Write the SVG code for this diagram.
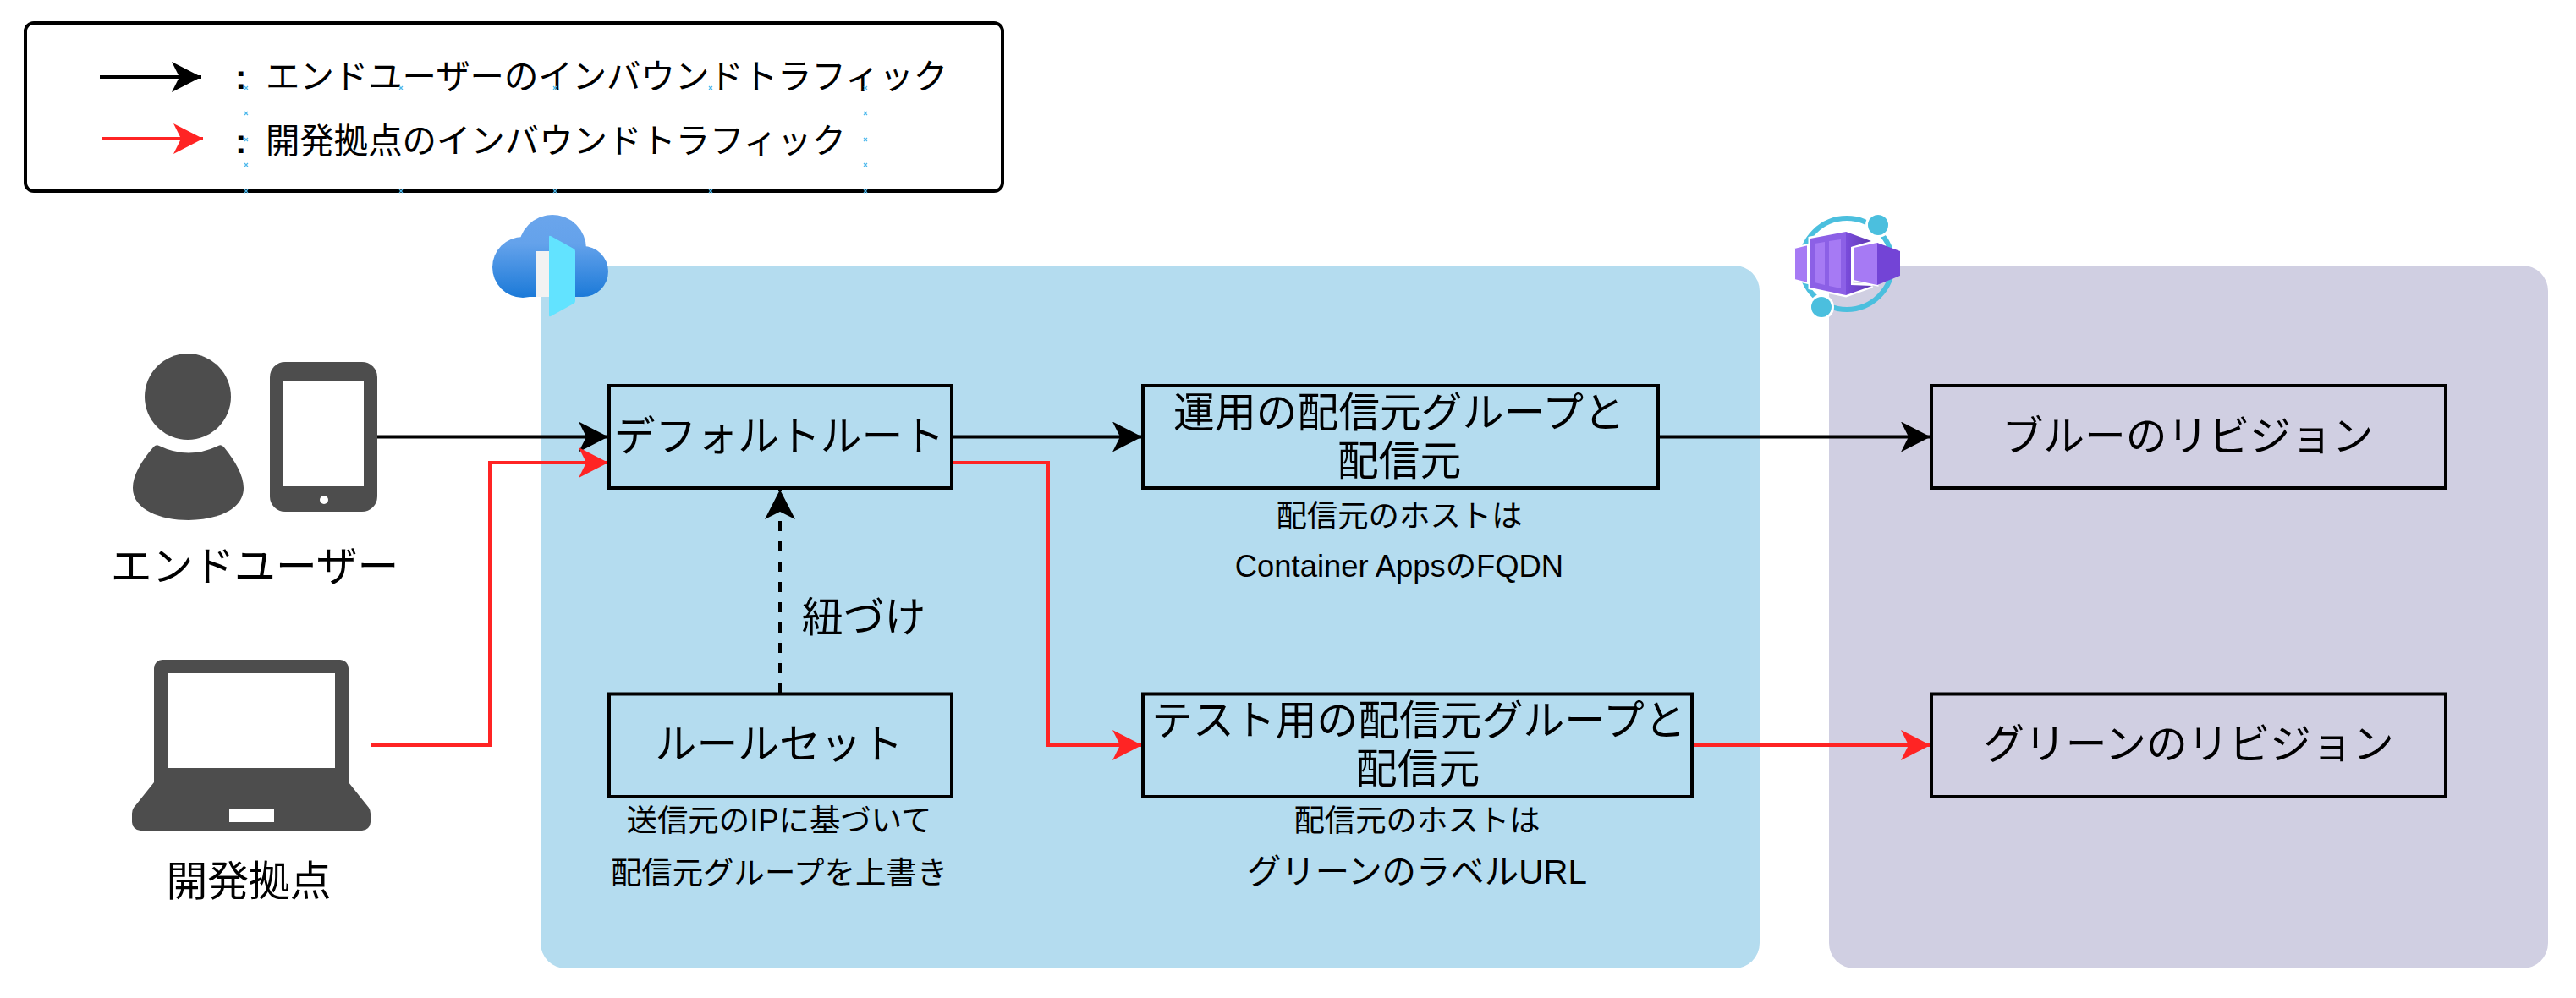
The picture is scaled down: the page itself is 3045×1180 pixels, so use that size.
<svg xmlns="http://www.w3.org/2000/svg" width="3045" height="1180" viewBox="0 0 3045 1180">
<defs>
<marker id="ab" markerUnits="userSpaceOnUse" markerWidth="36" markerHeight="36" refX="35" refY="18" orient="auto"><path d="M0,0 L35,18 L0,36 L9,18 Z" fill="#000"/></marker>
<marker id="ar" markerUnits="userSpaceOnUse" markerWidth="36" markerHeight="36" refX="35" refY="18" orient="auto"><path d="M0,0 L35,18 L0,36 L9,18 Z" fill="#ff2424"/></marker>
<linearGradient id="cg" gradientUnits="userSpaceOnUse" x1="0" y1="254" x2="0" y2="351"><stop offset="0" stop-color="#6aa5ec"/><stop offset="0.35" stop-color="#64a2eb"/><stop offset="1" stop-color="#1c7ad8"/></linearGradient>
<linearGradient id="cs" x1="0" y1="0" x2="1" y2="0"><stop offset="0" stop-color="#7a4cdc"/><stop offset="1" stop-color="#5f38b0"/></linearGradient>
</defs>
<style>
text{font-family:"Liberation Sans","Noto Sans CJK JP",sans-serif;fill:#000;text-anchor:middle}
.t48{font-size:48.8px}.t40{font-size:40.4px}.t36{font-size:36.4px}
.leg{font-size:40.4px;text-anchor:start}
.box{fill:none;stroke:#000;stroke-width:4}
.k{fill:none;stroke:#000;stroke-width:4}
.r{fill:none;stroke:#ff2424;stroke-width:4}
.ico{fill:#4d4d4d}
.xm{fill:none;stroke:#4db8ec;stroke-width:1.2}
</style>
<rect id="frontdoor-zone" x="639" y="314" width="1441" height="831" rx="30" fill="#b4dcef"/>
<rect id="containerapps-zone" x="2162" y="314" width="850" height="831" rx="30" fill="#d0cfe2"/>
<g id="legend">
<rect x="30" y="27" width="1155" height="199" rx="10" fill="#fff" stroke="#000" stroke-width="4"/>
<text class="leg" y="105"><tspan x="278" font-weight="bold">:</tspan><tspan x="314">エンドユーザーのインバウンドトラフィック</tspan></text>
<text class="leg" y="181"><tspan x="278" font-weight="bold">:</tspan><tspan x="314">開発拠点のインバウンドトラフィック</tspan></text>
<path class="xm" d="M289,102l4,4m0,-4l-4,4M472,102l4,4m0,-4l-4,4M654,102l4,4m0,-4l-4,4M838,102l4,4m0,-4l-4,4M1021,102l4,4m0,-4l-4,4M289,132l4,4m0,-4l-4,4M1021,132l4,4m0,-4l-4,4M289,163l4,4m0,-4l-4,4M1021,163l4,4m0,-4l-4,4M289,193l4,4m0,-4l-4,4M1021,193l4,4m0,-4l-4,4M289,224l4,4m0,-4l-4,4M472,224l4,4m0,-4l-4,4M654,224l4,4m0,-4l-4,4M838,224l4,4m0,-4l-4,4M1021,224l4,4m0,-4l-4,4"/>
</g>
<g id="front-door-icon">
<g fill="url(#cg)"><circle cx="653" cy="294" r="40"/><circle cx="618" cy="316" r="36"/><circle cx="689" cy="321" r="30"/><rect x="618" y="300" width="71" height="51"/></g>
<rect x="633" y="297" width="17" height="54" fill="#f2f2f2"/>
<path d="M649,280 Q649,278 651,279 L678,294 Q680,295 680,297 L680,356 Q680,358 678,359 L651,374 Q649,375 649,373 Z" fill="#62e3ff"/>
</g>
<g id="container-apps-icon">
<circle cx="2183" cy="312" r="54" fill="none" stroke="#4bbfde" stroke-width="6"/>
<circle cx="2220" cy="266" r="15" fill="#fff"/><circle cx="2220" cy="266" r="12" fill="#4bbfde"/>
<circle cx="2153" cy="363" r="15" fill="#fff"/><circle cx="2153" cy="363" r="12" fill="#4bbfde"/>
<path d="M2121,293 L2137,289 L2137,335 L2121,331 Z" fill="#a67af4" stroke="#fff" stroke-width="2"/>
<path d="M2140,282 L2182,274 L2212,285 L2188,292 L2188,337 L2213,338 L2182,349 L2140,340 Z" fill="#fff" stroke="#fff" stroke-width="5"/>
<path d="M2182,274 L2212,285 L2188,292 L2188,337 L2213,338 L2182,349 Z" fill="url(#cs)"/>
<path d="M2140,282 L2182,274 L2182,349 L2140,340 Z" fill="#8c60e6"/>
<path d="M2145,288 L2157,286 L2157,337 L2145,334 Z M2162,285 L2176,283 L2176,341 L2162,338 Z" fill="#a67af4"/>
<path d="M2191,293 L2219,287 L2219,337 L2191,331 Z" fill="#a67af4" stroke="#fff" stroke-width="3"/>
<path d="M2219,287 L2246,297 L2246,326 L2219,337 Z" fill="#7344d6"/>
<path d="M2191,293 L2219,287 L2219,337 L2191,331 Z" fill="#a67af4"/>
</g>
<g id="end-user">
<circle cx="222" cy="469" r="51" class="ico"/>
<path d="M181,529 Q184,525 188,527 Q223,544 258,527 Q262,525 265,529 C278,545 288,562 288,577 C288,603 255,615 223,615 C190,615 157,603 157,577 C157,562 167,545 181,529 Z" class="ico"/>
<rect x="319" y="428" width="127" height="177" rx="18" class="ico"/>
<rect x="335" y="450" width="95" height="125" fill="#fff"/>
<circle cx="383" cy="591" r="5" fill="#fff"/>
<text class="t48" x="301" y="687">エンドユーザー</text>
</g>
<g id="dev-site">
<path d="M192,780 H402 a10,10 0 0 1 10,10 V925 L436,955 Q438,958 438,962 V972 a10,10 0 0 1 -10,10 H166 a10,10 0 0 1 -10,-10 V962 Q156,958 158,955 L182,925 V790 a10,10 0 0 1 10,-10 Z" class="ico"/>
<rect x="198" y="796" width="198" height="112" fill="#fff"/>
<rect x="271" y="957" width="53" height="15" fill="#fff"/>
<text class="t48" x="294" y="1059">開発拠点</text>
</g>
<g id="connectors">
<line x1="118" y1="91" x2="238" y2="91" class="k" marker-end="url(#ab)"/>
<line x1="121" y1="164" x2="240" y2="164" class="r" marker-end="url(#ar)"/>
<line x1="446" y1="516.5" x2="719" y2="516.5" class="k" marker-end="url(#ab)"/>
<path d="M439,881 H579 V547 H719" class="r" marker-end="url(#ar)"/>
<line x1="1125" y1="516.5" x2="1350" y2="516.5" class="k" marker-end="url(#ab)"/>
<path d="M1125,547 H1239 V881 H1350" class="r" marker-end="url(#ar)"/>
<line x1="1960" y1="516.5" x2="2282" y2="516.5" class="k" marker-end="url(#ab)"/>
<line x1="2001" y1="881" x2="2282" y2="881" class="r" marker-end="url(#ar)"/>
<line x1="922" y1="820" x2="922" y2="579" class="k" stroke-dasharray="12 12" marker-end="url(#ab)"/>
</g>
<text id="link-label" class="t48" x="1021" y="747">紐づけ</text>
<g id="default-route"><rect class="box" x="720" y="456" width="405" height="121"/><text class="t48" x="921" y="533">デフォルトルート</text></g>
<g id="ruleset"><rect class="box" x="720" y="820.5" width="405" height="121.5"/><text class="t48" x="921" y="897">ルールセット</text>
<text class="t36" x="921" y="983">送信元のIPに基づいて</text><text class="t36" x="921" y="1045">配信元グループを上書き</text></g>
<g id="prod-origin"><rect class="box" x="1351" y="456" width="609" height="121"/><text class="t48" x="1654" y="505">運用の配信元グループと</text><text class="t48" x="1654" y="562">配信元</text>
<text class="t36" x="1654" y="623">配信元のホストは</text><text class="t36" x="1654" y="682">Container AppsのFQDN</text></g>
<g id="test-origin"><rect class="box" x="1351" y="820.5" width="649" height="121.5"/><text class="t48" x="1677" y="869">テスト用の配信元グループと</text><text class="t48" x="1676" y="926">配信元</text>
<text class="t36" x="1675" y="983">配信元のホストは</text><text class="t40" x="1675" y="1045">グリーンのラベルURL</text></g>
<g id="blue"><rect class="box" x="2283" y="456" width="608" height="121"/><text class="t48" x="2586" y="533">ブルーのリビジョン</text></g>
<g id="green"><rect class="box" x="2283" y="820.5" width="608" height="121.5"/><text class="t48" x="2587" y="897">グリーンのリビジョン</text></g>
</svg>
